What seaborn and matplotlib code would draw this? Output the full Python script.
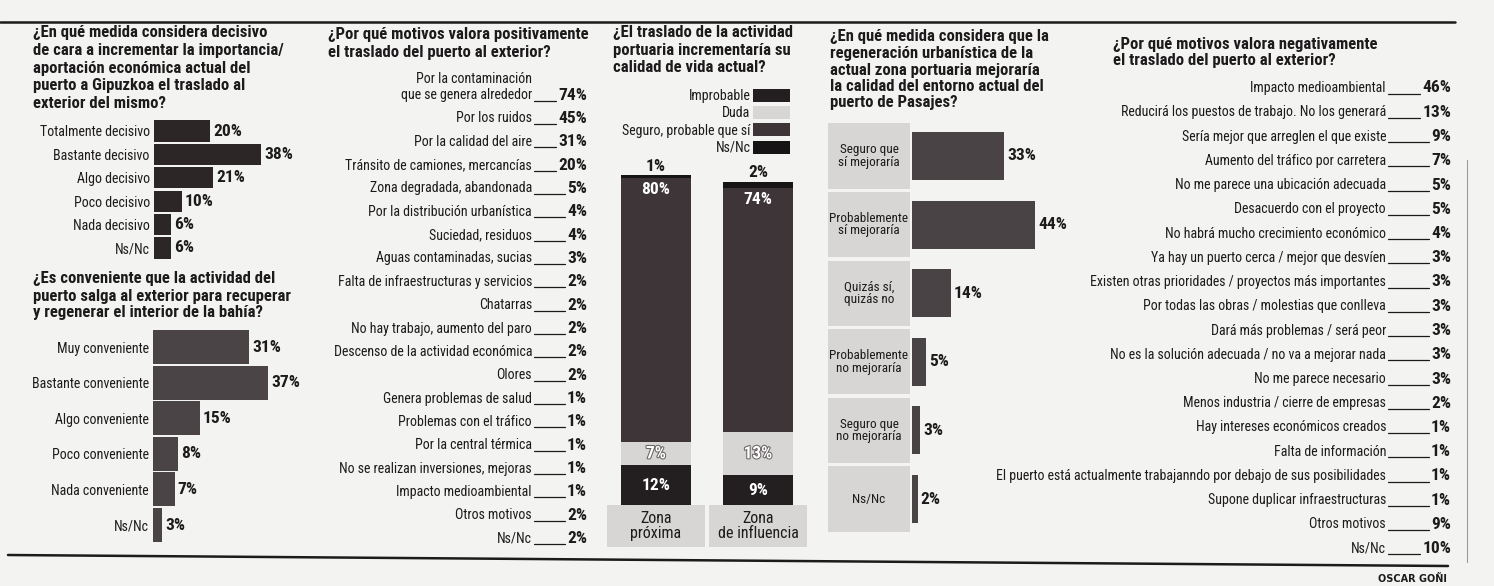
import matplotlib
matplotlib.use('Agg')
import matplotlib.pyplot as plt
import matplotlib.patheffects as pe
from matplotlib import font_manager
from matplotlib.patches import Rectangle
import seaborn as sns

# --- data ---
decisivo_labels = ['Totalmente decisivo', 'Bastante decisivo', 'Algo decisivo',
                   'Poco decisivo', 'Nada decisivo', 'Ns/Nc']
decisivo_values = [20, 38, 21, 10, 6, 6]

conveniente_labels = ['Muy conveniente', 'Bastante conveniente', 'Algo conveniente',
                      'Poco conveniente', 'Nada conveniente', 'Ns/Nc']
conveniente_values = [31, 37, 15, 8, 7, 3]

positivos_labels = ['Por la contaminación\nque se genera alrededor', 'Por los ruidos',
                    'Por la calidad del aire', 'Tránsito de camiones, mercancías',
                    'Zona degradada, abandonada', 'Por la distribución urbanística',
                    'Suciedad, residuos', 'Aguas contaminadas, sucias',
                    'Falta de infraestructuras y servicios', 'Chatarras',
                    'No hay trabajo, aumento del paro', 'Descenso de la actividad económica',
                    'Olores', 'Genera problemas de salud', 'Problemas con el tráfico',
                    'Por la central térmica', 'No se realizan inversiones, mejoras',
                    'Impacto medioambiental', 'Otros motivos', 'Ns/Nc']
positivos_values = [74, 45, 31, 20, 5, 4, 4, 3, 2, 2, 2, 2, 2, 1, 1, 1, 1, 1, 2, 2]

zonas = ['Zona\npróxima', 'Zona\nde influencia']
calidad_series = ['Improbable', 'Duda', 'Seguro, probable que sí', 'Ns/Nc']
improbable = [12, 9]
duda = [7, 13]
seguro = [80, 74]
nsnc = [1, 2]

regeneracion_labels = ['Seguro que\nsí mejoraría', 'Probablemente\nsí mejoraría',
                       'Quizás sí,\nquizás no', 'Probablemente\nno mejoraría',
                       'Seguro que\nno mejoraría', 'Ns/Nc']
regeneracion_values = [33, 44, 14, 5, 3, 2]

negativos_labels = ['Impacto medioambiental', 'Reducirá los puestos de trabajo. No los generará',
                    'Sería mejor que arreglen el que existe', 'Aumento del tráfico por carretera',
                    'No me parece una ubicación adecuada', 'Desacuerdo con el proyecto',
                    'No habrá mucho crecimiento económico', 'Ya hay un puerto cerca / mejor que desvíen',
                    'Existen otras prioridades / proyectos más importantes',
                    'Por todas las obras / molestias que conlleva', 'Dará más problemas / será peor',
                    'No es la solución adecuada / no va a mejorar nada', 'No me parece necesario',
                    'Menos industria / cierre de empresas', 'Hay intereses económicos creados',
                    'Falta de información',
                    'El puerto está actualmente trabajanndo por debajo de sus posibilidades',
                    'Supone duplicar infraestructuras', 'Otros motivos', 'Ns/Nc']
negativos_values = [46, 13, 9, 7, 5, 5, 4, 3, 3, 3, 3, 3, 3, 2, 1, 1, 1, 1, 9, 10]

# --- style ---
BG = '#f3f3f1'
INK = '#1c1a1b'
BOX = '#d8d5d5'
VAL = 12.5   # size of the bold percentages

sns.set_theme(style='white')
names = {f.name for f in font_manager.fontManager.ttflist}
FONT = 'DejaVu Sans'
for cand in ['Liberation Sans Narrow', 'Roboto Condensed', 'Open Sans Condensed', 'Roboto']:
    if cand in names:
        FONT = cand
        break
plt.rcParams['font.family'] = [FONT, 'DejaVu Sans']
plt.rcParams['text.color'] = INK

W, H = 1494, 586
fig = plt.figure(figsize=(W / 100, H / 100), dpi=100, facecolor=BG)


def add_axes(x0, y0, x1, y1):
    ax = fig.add_axes([x0 / W, 1 - y1 / H, (x1 - x0) / W, (y1 - y0) / H])
    ax.set_facecolor('none')
    return ax


over = add_axes(0, 0, W, H)
over.set_xlim(0, W)
over.set_ylim(H, 0)
over.axis('off')


def title(x, y, lines, step=17):
    for i, line in enumerate(lines):
        over.text(x, y + i * step, line, ha='left', va='center', fontsize=12,
                  fontweight='bold', color=INK)


def hbar(ax, labels, values, color, width, xmax, ticks=True):
    sns.barplot(x=values, y=labels, orient='h', color=color, width=width,
                saturation=1, linewidth=0, ax=ax)
    ax.set_xlim(0, xmax)
    ax.bar_label(ax.containers[0], fmt='%d%%', padding=2, fontsize=VAL,
                 fontweight='bold', color=INK)
    ax.set_xticks([])
    ax.set_xlabel('')
    ax.set_ylabel('')
    ax.tick_params(axis='y', length=0, pad=3, labelsize=10, labelcolor=INK)
    if not ticks:
        ax.set_yticks([])
    for s in ax.spines.values():
        s.set_visible(False)


def text_list(labels, values, x_label, x_value, y0, step):
    r = fig.canvas.get_renderer()
    inv = over.transData.inverted()
    for i, (lab, val) in enumerate(zip(labels, values)):
        y = y0 + i * step
        for j, line in enumerate(reversed(lab.split('\n'))):
            over.text(x_label, y - j * 16, line, ha='right', va='center',
                      fontsize=10, color=INK)
        t = over.text(x_value, y, f'{val}%', ha='right', va='center',
                      fontsize=VAL, fontweight='bold', color=INK)
        x_start = inv.transform((t.get_window_extent(r).x0, 0))[0]
        over.plot([x_label + 2, x_start - 2], [y + 5.5, y + 5.5], color=INK, lw=0.9)


# rules
over.plot([0, 1455], [22, 22], color=INK, lw=1.8)
over.plot([8, 1448], [555, 566], color=INK, lw=1.8)
over.plot([1467, 1467], [160, 562], color='#9a9a9a', lw=0.8)
over.text(1447, 579, 'OSCAR GOÑI', ha='right', va='center', fontsize=7,
          fontweight='bold', family='DejaVu Sans', color=INK)

# 1a
title(33, 33, ['¿En qué medida considera decisivo', 'de cara a incrementar la importancia/',
               'aportación económica actual del', 'puerto a Gipuzkoa el traslado al',
               'exterior del mismo?'], step=17.5)
ax1 = add_axes(154, 119.3, 295, 259.7)
hbar(ax1, decisivo_labels, decisivo_values, '#2c2627', 0.9, 50)

# 1b
title(33, 279, ['¿Es conveniente que la actividad del', 'puerto salga al exterior para recuperar',
                'y regenerar el interior de la bahía?'], step=17)
ax2 = add_axes(153, 329.2, 293, 542.8)
hbar(ax2, conveniente_labels, conveniente_values, '#4b4446', 0.95, 45)

# 2
title(328, 35, ['¿Por qué motivos valora positivamente', 'el traslado del puerto al exterior?'])
text_list(positivos_labels, positivos_values, 532, 587, 95, 23.35)

# 3
title(613, 33, ['¿El traslado de la actividad', 'portuaria incrementaría su',
                'calidad de vida actual?'])
ax3 = add_axes(605, 175, 809, 505)
colors3 = ['#231e1f', BOX, '#3d3537', '#171415']
bottoms = [0, 0]
containers = []
for name, vals, col in zip(calidad_series, [improbable, duda, seguro, nsnc], colors3):
    bars = ax3.bar(range(len(zonas)), vals, bottom=bottoms, width=0.68, color=col,
                   linewidth=0, label=name)
    containers.append((bars, vals, list(bottoms)))
    bottoms = [b + v for b, v in zip(bottoms, vals)]
ax3.set_xlim(-0.5, 1.5)
ax3.set_ylim(0, 100)
ax3.axis('off')
stroke = [pe.withStroke(linewidth=1.5, foreground='#6a6466')]
for k, (bars, vals, bots) in enumerate(containers):
    labs = [f'{v}%' for v in vals]
    if k in (0, 1):
        ts = ax3.bar_label(bars, labels=labs, label_type='center', color='white',
                           fontsize=VAL, fontweight='bold')
        if k == 1:
            for t in ts:
                t.set_path_effects(stroke)
    elif k == 2:
        for i, (v, b) in enumerate(zip(vals, bots)):
            ax3.text(i, b + v - 1.0, f'{v}%', ha='center', va='top', color='white',
                     fontsize=VAL, fontweight='bold')
    else:
        ax3.bar_label(bars, labels=labs, padding=1, color=INK, fontsize=VAL,
                      fontweight='bold')
leg = ax3.legend(markerfirst=False, frameon=False, loc='upper right',
                 bbox_to_anchor=(790 / W, 1 - 89 / H), bbox_transform=fig.transFigure,
                 borderaxespad=0, borderpad=0, fontsize=10, handlelength=2.7,
                 handleheight=1.05, handletextpad=0.15, labelspacing=0.22)
ax3z = add_axes(605, 505, 809, 547)
ax3z.set_xlim(-0.5, 1.5)
ax3z.set_ylim(0, 1)
ax3z.axis('off')
for i, z in enumerate(zonas):
    ax3z.add_patch(Rectangle((i - 0.48, 0), 0.96, 1, color=BOX, lw=0))
    ax3z.text(i, 0.5, z, ha='center', va='center', fontsize=11.5, linespacing=0.95,
              color=INK)

# 4
title(830, 37, ['¿En qué medida considera que la', 'regeneración urbanística de la',
                'actual zona portuaria mejoraría', 'la calidad del entorno actual del',
                'puerto de Pasajes?'], step=16.5)
ax4 = add_axes(912, 121.7, 1052, 533.3)
hbar(ax4, regeneracion_labels, regeneracion_values, '#4a4345', 0.7, 50, ticks=False)
lab4 = add_axes(828, 121.7, 910, 533.3)
lab4.set_xlim(0, 1)
lab4.set_ylim(len(regeneracion_labels) - 0.5, -0.5)
lab4.axis('off')
for i, lab in enumerate(regeneracion_labels):
    lab4.add_patch(Rectangle((0, i - 0.475), 1, 0.95, color=BOX, lw=0))
    lab4.text(0.5, i, lab, ha='center', va='center', fontsize=9.5, linespacing=0.95,
              color=INK)

# 5
title(1113, 44, ['¿Por qué motivos valora negativamente', 'el traslado del puerto al exterior?'],
      step=16)
text_list(negativos_labels, negativos_values, 1386, 1451, 88, 24.25)

fig.savefig('out.png', dpi=100, facecolor=BG)
